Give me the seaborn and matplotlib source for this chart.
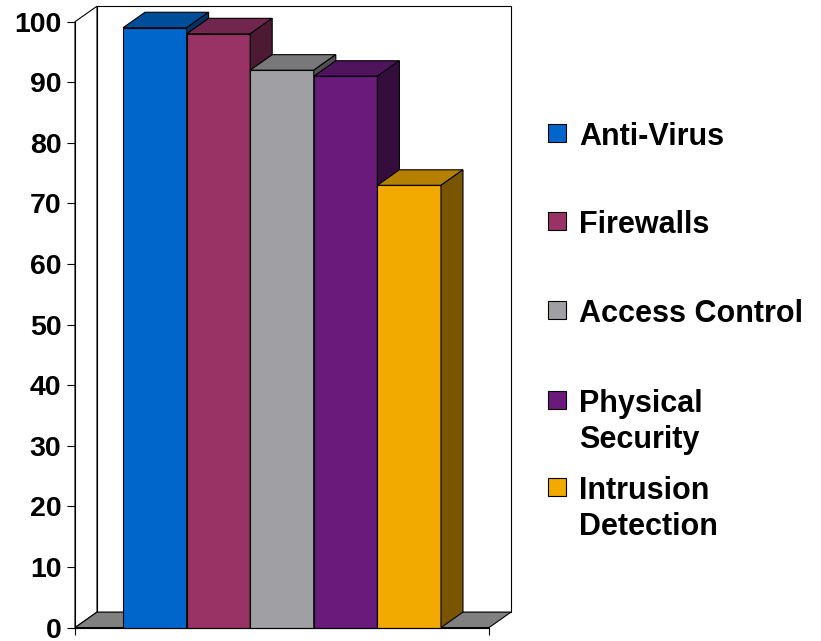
import matplotlib
matplotlib.use("Agg")
import matplotlib.pyplot as plt
import seaborn as sns
import pandas as pd
from matplotlib.patches import Polygon, Rectangle
from matplotlib.colors import to_rgb

# ---- data ----
categories = ["Anti-Virus", "Firewalls", "Access Control", "Physical Security", "Intrusion Detection"]
legend_lines = [["Anti-Virus"], ["Firewalls"], ["Access Control"], ["Physical", "Security"], ["Intrusion", "Detection"]]
values = [99, 98, 92, 91, 73]
colors = ["#0066CC", "#993366", "#A0A0A4", "#6A1A7A", "#F2AA00"]
y_ticks = [0, 10, 20, 30, 40, 50, 60, 70, 80, 90, 100]

sns.set_theme(style="white")
plt.rcParams['font.family'] = ['Liberation Sans', 'DejaVu Sans']
plt.rcParams['text.color'] = 'black'

W, H = 821, 641
fig = plt.figure(figsize=(W / 100, H / 100), dpi=100)
fig.patch.set_facecolor("white")

AX_L, AX_R, AX_T, AX_B = 75, 489, 21.7, 627.6
ax = fig.add_axes([AX_L / W, (H - AX_B) / H, (AX_R - AX_L) / W, (AX_B - AX_T) / H])
ax.set_facecolor("none")

df = pd.DataFrame({"category": categories, "value": values})
sns.barplot(data=df, x="category", y="value", hue="category", palette=colors,
            width=1.0, saturation=1, edgecolor="black", linewidth=0.8,
            legend=False, ax=ax)

margin = 0.755
xl, xr = -0.5 - margin, len(categories) - 0.5 + margin
ax.set_xlim(xl, xr)
ax.set_ylim(0, 100)

# depth offset (pixels) converted to data units
DX, DY = 22, 15.5
ddx = DX * (xr - xl) / (AX_R - AX_L)
ddy = DY * 100 / (AX_B - AX_T)

def shade(c, f):
    r, g, b = to_rgb(c)
    return (r * f, g * f, b * f)

lw = 0.8
# back wall
ax.add_patch(Polygon([(xl + ddx, ddy), (xr + ddx, ddy), (xr + ddx, 100 + ddy), (xl + ddx, 100 + ddy)],
                     closed=True, facecolor="white", edgecolor="black", lw=lw, clip_on=False, zorder=0.5))
# left side wall
ax.add_patch(Polygon([(xl, 0), (xl + ddx, ddy), (xl + ddx, 100 + ddy), (xl, 100)],
                     closed=True, facecolor="white", edgecolor="black", lw=lw, clip_on=False, zorder=0.6))
# floor
ax.add_patch(Polygon([(xl, 0), (xr, 0), (xr + ddx, ddy), (xl + ddx, ddy)],
                     closed=True, facecolor="#808080", edgecolor="black", lw=lw, clip_on=False, zorder=0.7))

bars = [p for p in ax.patches if isinstance(p, Rectangle)]
for i, (p, c) in enumerate(zip(bars, colors)):
    x0, w, h = p.get_x(), p.get_width(), p.get_height()
    base = 10 + 3 * i
    p.set_zorder(base)
    p.set_clip_on(False)
    top = Polygon([(x0, h), (x0 + w, h), (x0 + w + ddx, h + ddy), (x0 + ddx, h + ddy)],
                  closed=True, facecolor=shade(c, 0.75), edgecolor="black", lw=lw,
                  clip_on=False, zorder=base + 1)
    side = Polygon([(x0 + w, 0), (x0 + w + ddx, ddy), (x0 + w + ddx, h + ddy), (x0 + w, h)],
                   closed=True, facecolor=shade(c, 0.5), edgecolor="black", lw=lw,
                   clip_on=False, zorder=base + 2)
    ax.add_patch(top)
    ax.add_patch(side)

# axes styling
for s in ["top", "right"]:
    ax.spines[s].set_visible(False)
for s in ["left", "bottom"]:
    ax.spines[s].set_color("black")
    ax.spines[s].set_linewidth(lw)
    ax.spines[s].set_zorder(40)
ax.set_xlabel("")
ax.set_ylabel("")
ax.set_yticks(y_ticks)
ax.set_yticklabels([str(t) for t in y_ticks], fontsize=20.5, fontweight="bold", color="black")
ax.set_xticks([xl, xr])
ax.set_xticklabels(["", ""])
ax.tick_params(axis="y", left=True, direction="out", length=5.5, width=lw, color="black",
               labelcolor="black", pad=4.3)
ax.tick_params(axis="x", bottom=True, direction="out", length=5, width=lw, color="black")

# legend (manual, Excel-like)
first_baselines = [145, 233, 322, 412, 499]
line_gap = 36
sq_x, sq = 548, 18
for lines, c, yb in zip(legend_lines, colors, first_baselines):
    sq_top = yb - 21
    fig.patches.append(Rectangle((sq_x / W, (H - sq_top - sq) / H), sq / W, sq / H,
                                 transform=fig.transFigure, facecolor=c, edgecolor="black",
                                 lw=lw, figure=fig))
    for k, line in enumerate(lines):
        fig.text(579 / W, (H - (yb + k * line_gap)) / H, line, fontsize=22,
                 fontweight="bold", va="baseline", ha="left", color="black")

fig.savefig("out.png", dpi=100, facecolor="white")
